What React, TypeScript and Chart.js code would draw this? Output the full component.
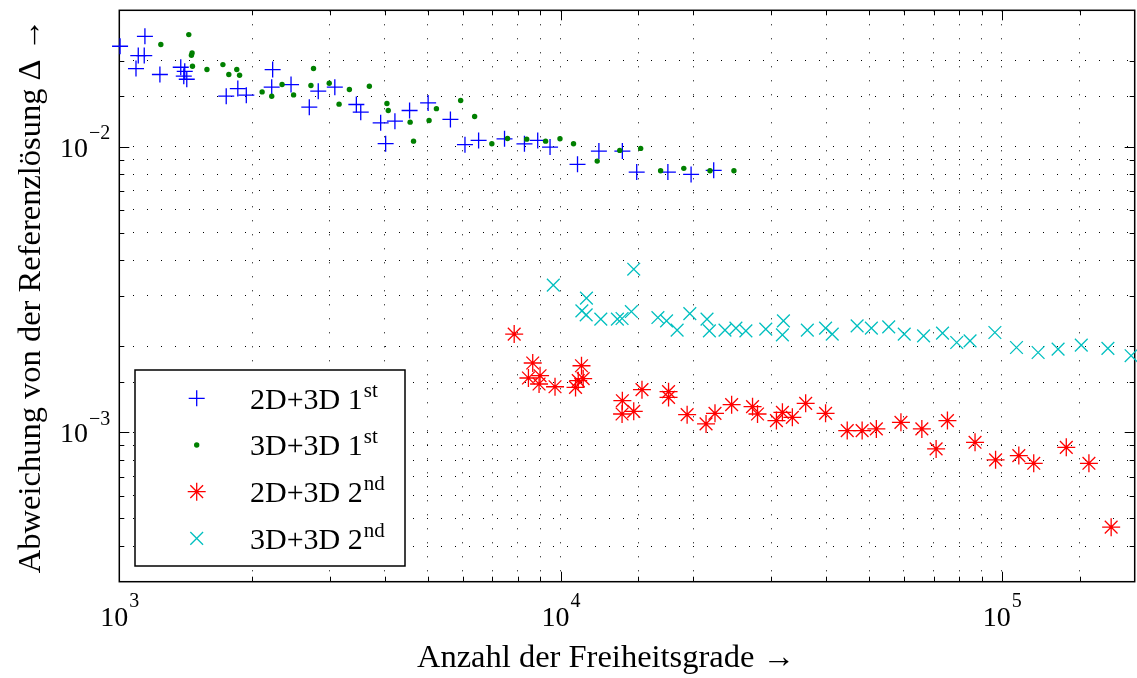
import React, { useEffect, useRef } from "react";
import { Chart, registerables } from "chart.js";

Chart.register(...registerables);

// ---------- axis ranges & labels ----------
const X_MIN = 1e3;
const X_MAX = 2e5;
const Y_MIN = 3e-4;
const Y_MAX = 3e-2;
const xTickLabels = [1e3, 1e4, 1e5];
const yTickLabels = [1e-3, 1e-2];
const xAxisTitle = "Anzahl der Freiheitsgrade →";
const yAxisTitle = "Abweichung von der Referenzlösung Δ →";
const legendBase = ["2D+3D 1", "3D+3D 1", "2D+3D 2", "3D+3D 2"];
const legendSup = ["st", "st", "nd", "nd"];

// ---------- series: 2D+3D 1st (blue +) ----------
const blueX = [
  1004, 1143, 1104, 1139, 1091, 1236, 1378, 1407, 1400, 1422, 1747, 1856, 1940,
  2226, 2215, 2450, 2695, 2824, 3079, 3445, 3525, 3911, 4014, 4213, 4548, 5010,
  5628, 6072, 6520, 7464, 8282, 8875, 9465, 10924, 12213, 13804, 14877, 17505,
  19758, 22233,
];
const blueY = [
  0.02245, 0.02432, 0.02083, 0.02083, 0.01876, 0.01788, 0.01896, 0.01835,
  0.01764, 0.01721, 0.01501, 0.01597, 0.01514, 0.01861, 0.01614, 0.01649,
  0.01374, 0.01563, 0.01614, 0.01404, 0.0132, 0.01211, 0.01024, 0.01228,
  0.01338, 0.01422, 0.01245, 0.01016, 0.01051, 0.01065, 0.01023, 0.01051,
  0.00996, 0.00867, 0.009645, 0.009645, 0.008145, 0.008145, 0.007994, 0.008258,
];

// ---------- series: 3D+3D 1st (green dots) ----------
const greenX = [
  1437, 1242, 1462, 1457, 1465, 1580, 1717, 1771, 1846, 1873, 2107, 2215, 2338,
  2483, 2755, 2718, 2990, 3148, 3322, 3687, 4041, 4069, 4561, 4643, 5035, 5232,
  5937, 6386, 6986, 7581, 8381, 9249, 9968, 10698, 12106, 13618, 15187, 16852,
  19021, 21807, 24709,
];
const greenY = [
  0.02466, 0.02276, 0.02127, 0.02088, 0.01911, 0.01861, 0.01937, 0.01788,
  0.01861, 0.01778, 0.01554, 0.01501, 0.01649, 0.01517, 0.01876, 0.01636,
  0.01667, 0.01408, 0.01584, 0.01627, 0.01415, 0.01338, 0.01218, 0.01045,
  0.01234, 0.01358, 0.0145, 0.01275, 0.01023, 0.01068, 0.01062, 0.01045,
  0.01065, 0.01023, 0.008899, 0.009699, 0.009856, 0.008231, 0.008392, 0.008231,
  0.008231,
];

// ---------- series: 2D+3D 2nd (red *) ----------
const redX = [
  7850, 8647, 8456, 8985, 8938, 9714, 11153, 10965, 11251, 10812, 13804, 13783,
  14648, 15292, 17566, 17566, 19354, 21362, 22383, 24414, 27227, 27944, 30843,
  31820, 33515, 35924, 39857, 44627, 48234, 51950, 59060, 65870, 70960, 75280,
  86940, 96780, 109250, 118090, 139960, 157500, 176880,
];
const redY = [
  0.002207, 0.001748, 0.001549, 0.001578, 0.001476, 0.001444, 0.00171,
  0.001516, 0.001541, 0.001436, 0.00129, 0.001159, 0.001184, 0.00141, 0.001388,
  0.001325, 0.001153, 0.00107, 0.001165, 0.00125, 0.00123, 0.001159, 0.001099,
  0.001175, 0.001128, 0.001263, 0.001165, 0.001014, 0.001014, 0.001028,
  0.001084, 0.001028, 0.000875, 0.001099, 0.0009228, 0.000801, 0.0008291,
  0.0007791, 0.0008862, 0.0007791, 0.0004657,
];

// ---------- series: 3D+3D 2nd (cyan x) ----------
const cyanX = [
  9627, 14648, 11446, 11175, 11429, 12336, 13451, 13783, 14467, 16617, 17385,
  18370, 19628, 21470, 21739, 23581, 24966, 26300, 29174, 31989, 31820, 36239,
  39857, 41270, 46989, 50619, 55410, 60089, 66464, 73379, 79015, 84707, 96430,
  107940, 120830, 134100, 151350, 173900, 196300,
];
const cyanY = [
  0.003273, 0.003723, 0.002948, 0.002662, 0.002578, 0.00249, 0.00249, 0.002502,
  0.002647, 0.002522, 0.002456, 0.002279, 0.002604, 0.00249, 0.002266,
  0.002279, 0.002316, 0.002266, 0.002297, 0.002456, 0.002194, 0.002279,
  0.002316, 0.002207, 0.002359, 0.002316, 0.00234, 0.002207, 0.002176,
  0.002224, 0.002062, 0.00209, 0.002235, 0.001981, 0.001903, 0.001956, 0.00202,
  0.001966, 0.001854,
];

const BLUE = "#0000ff";
const GREEN = "#008000";
const RED = "#ff0000";
const CYAN = "#00bfbf";
const FONT = '"Liberation Serif", "Times New Roman", serif';

const toPts = (xs: number[], ys: number[]) => xs.map((x, i) => ({ x, y: ys[i] }));

function drawText(
  ctx: CanvasRenderingContext2D,
  text: string,
  x: number,
  y: number,
  font: string,
  align: "left" | "center" | "right" = "left",
  sx = 1
) {
  ctx.save();
  ctx.font = font;
  const w = ctx.measureText(text).width * sx;
  const x0 = align === "left" ? x : align === "center" ? x - w / 2 : x - w;
  ctx.translate(x0, y);
  ctx.scale(sx, 1);
  ctx.textAlign = "left";
  ctx.textBaseline = "alphabetic";
  ctx.fillStyle = "#000";
  ctx.fillText(text, 0, 0);
  ctx.restore();
  return w;
}

function measure(ctx: CanvasRenderingContext2D, text: string, font: string) {
  ctx.save();
  ctx.font = font;
  const w = ctx.measureText(text).width;
  ctx.restore();
  return w;
}

function drawMarker(ctx: CanvasRenderingContext2D, kind: string, x: number, y: number) {
  ctx.save();
  ctx.lineWidth = 1.3;
  ctx.beginPath();
  if (kind === "plus") {
    ctx.strokeStyle = BLUE;
    ctx.moveTo(x - 8, y);
    ctx.lineTo(x + 8, y);
    ctx.moveTo(x, y - 8);
    ctx.lineTo(x, y + 8);
    ctx.stroke();
  } else if (kind === "dot") {
    ctx.fillStyle = GREEN;
    ctx.arc(x, y, 2.7, 0, Math.PI * 2);
    ctx.fill();
  } else if (kind === "star") {
    ctx.strokeStyle = RED;
    const r = 9;
    const d = r * Math.SQRT1_2;
    ctx.moveTo(x - r, y);
    ctx.lineTo(x + r, y);
    ctx.moveTo(x, y - r);
    ctx.lineTo(x, y + r);
    ctx.moveTo(x - d, y - d);
    ctx.lineTo(x + d, y + d);
    ctx.moveTo(x - d, y + d);
    ctx.lineTo(x + d, y - d);
    ctx.stroke();
  } else {
    ctx.strokeStyle = CYAN;
    const d = 9 * Math.SQRT1_2;
    ctx.moveTo(x - d, y - d);
    ctx.lineTo(x + d, y + d);
    ctx.moveTo(x - d, y + d);
    ctx.lineTo(x + d, y - d);
    ctx.stroke();
  }
  ctx.restore();
}

const isMajor = (v: number) => {
  const l = Math.log10(v);
  return Math.abs(l - Math.round(l)) < 1e-6;
};

const decorPlugin = {
  id: "matlabDecor",
  beforeDatasetsDraw(chart: any) {
    const ctx: CanvasRenderingContext2D = chart.ctx;
    const { left, right, top, bottom } = chart.chartArea;
    const xs = chart.scales.x;
    const ys = chart.scales.y;
    ctx.save();
    ctx.strokeStyle = "#000";
    ctx.lineWidth = 1;
    ctx.beginPath();
    xs.ticks.forEach((t: any) => {
      const px = Math.round(xs.getPixelForValue(t.value)) + 0.5;
      if (px <= left + 1 || px >= right - 1) return;
      const L = isMajor(t.value) ? 10 : 5;
      ctx.moveTo(px, bottom);
      ctx.lineTo(px, bottom - L);
      ctx.moveTo(px, top);
      ctx.lineTo(px, top + L);
    });
    ys.ticks.forEach((t: any) => {
      const py = Math.round(ys.getPixelForValue(t.value)) + 0.5;
      if (py <= top + 1 || py >= bottom - 1) return;
      const L = isMajor(t.value) ? 10 : 5;
      ctx.moveTo(left, py);
      ctx.lineTo(left + L, py);
      ctx.moveTo(right, py);
      ctx.lineTo(right - L, py);
    });
    ctx.stroke();
    ctx.lineWidth = 1.5;
    ctx.strokeRect(left, top, right - left, bottom - top);
    ctx.restore();
  },
  afterDraw(chart: any) {
    const ctx: CanvasRenderingContext2D = chart.ctx;
    const { left, right, top, bottom } = chart.chartArea;
    const xs = chart.scales.x;
    const ys = chart.scales.y;
    const baseFont = `28px ${FONT}`;
    const supFont = `20px ${FONT}`;

    // x tick labels
    xTickLabels.forEach((v) => {
      const px = xs.getPixelForValue(v);
      const exp = String(Math.round(Math.log10(v)));
      const wb = measure(ctx, "10", baseFont);
      const wsup = measure(ctx, exp, supFont);
      const x0 = px - (wb + wsup) / 2;
      drawText(ctx, "10", x0, bottom + 44, baseFont, "left");
      drawText(ctx, exp, x0 + wb + 1, bottom + 25, supFont, "left");
    });

    // y tick labels
    yTickLabels.forEach((v) => {
      const py = ys.getPixelForValue(v);
      const exp = "−" + String(Math.abs(Math.round(Math.log10(v))));
      const wb = measure(ctx, "10", baseFont);
      const wsup = measure(ctx, exp, supFont);
      const xr = left - 9;
      drawText(ctx, "10", xr - wsup - wb - 1, py + 10, baseFont, "left");
      drawText(ctx, exp, xr - wsup, py - 7.5, supFont, "left");
    });

    // axis titles
    const titleFont = `32.5px ${FONT}`;
    drawText(ctx, xAxisTitle, (left + right) / 2 - 21, 667, titleFont, "center");
    ctx.save();
    ctx.translate(40, (top + bottom) / 2);
    ctx.rotate(-Math.PI / 2);
    drawText(ctx, yAxisTitle, 0, 0, titleFont, "center");
    ctx.restore();

    // legend
    const lx0 = 135, ly0 = 370, lw = 270, lh = 196;
    ctx.save();
    ctx.fillStyle = "#fff";
    ctx.fillRect(lx0, ly0, lw, lh);
    ctx.strokeStyle = "#000";
    ctx.lineWidth = 1.5;
    ctx.strokeRect(lx0, ly0, lw, lh);
    ctx.restore();
    const kinds = ["plus", "dot", "star", "cross"];
    const legFont = `30px ${FONT}`;
    const legSup = `21px ${FONT}`;
    legendBase.forEach((txt, i) => {
      const cy = 398.3 + i * 46.67;
      drawMarker(ctx, kinds[i], 196.7, cy);
      const w = drawText(ctx, txt, 250, cy + 10.5, legFont, "left");
      drawText(ctx, legendSup[i], 250 + w + 1, cy - 1.5, legSup, "left");
    });
  },
};

export default function App() {
  const ref = useRef<HTMLCanvasElement | null>(null);
  useEffect(() => {
    if (!ref.current) return;
    const chart = new Chart(ref.current, {
      type: "scatter",
      data: {
        datasets: [
          {
            label: "2D+3D 1st",
            data: toPts(blueX, blueY),
            pointStyle: "cross",
            pointRadius: 8,
            borderColor: BLUE,
            backgroundColor: BLUE,
            borderWidth: 1.3,
            clip: false,
            order: 4,
          } as any,
          {
            label: "3D+3D 1st",
            data: toPts(greenX, greenY),
            pointStyle: "circle",
            pointRadius: 2.7,
            borderWidth: 0,
            borderColor: GREEN,
            backgroundColor: GREEN,
            clip: false,
            order: 3,
          } as any,
          {
            label: "2D+3D 2nd",
            data: toPts(redX, redY),
            pointStyle: "star",
            pointRadius: 9,
            borderColor: RED,
            backgroundColor: RED,
            borderWidth: 1.3,
            clip: false,
            order: 2,
          } as any,
          {
            label: "3D+3D 2nd",
            data: toPts(cyanX, cyanY),
            pointStyle: "crossRot",
            pointRadius: 9,
            borderColor: CYAN,
            backgroundColor: CYAN,
            borderWidth: 1.3,
            clip: false,
            order: 1,
          } as any,
        ],
      },
      options: {
        responsive: false,
        animation: false,
        devicePixelRatio: 1,
        events: [],
        layout: { padding: { left: 0, right: 6.3, top: 9, bottom: 0 } },
        plugins: { legend: { display: false }, tooltip: { enabled: false } },
        scales: {
          x: {
            type: "logarithmic",
            min: X_MIN,
            max: X_MAX,
            position: "bottom",
            ticks: { display: false, autoSkip: false },
            grid: { color: "#000", lineWidth: 1, drawTicks: false, tickLength: 0 },
            border: { display: false, dash: [1, 13] },
            afterFit: (s: any) => {
              s.height = 96.3;
            },
          },
          y: {
            type: "logarithmic",
            min: Y_MIN,
            max: Y_MAX,
            position: "left",
            ticks: { display: false, autoSkip: false },
            grid: { color: "#000", lineWidth: 1, drawTicks: false, tickLength: 0 },
            border: { display: false, dash: [1, 13] },
            afterFit: (s: any) => {
              s.width = 119.3;
            },
          },
        },
      } as any,
      plugins: [decorPlugin],
    });
    return () => chart.destroy();
  }, []);
  return (
    <div
      style={{
        position: "absolute",
        left: 0,
        top: 0,
        width: 1137,
        height: 678,
        overflow: "hidden",
        background: "#fff",
      }}
    >
      <canvas ref={ref} width={1145} height={678} style={{ width: 1145, height: 678, display: "block" }} />
    </div>
  );
}
